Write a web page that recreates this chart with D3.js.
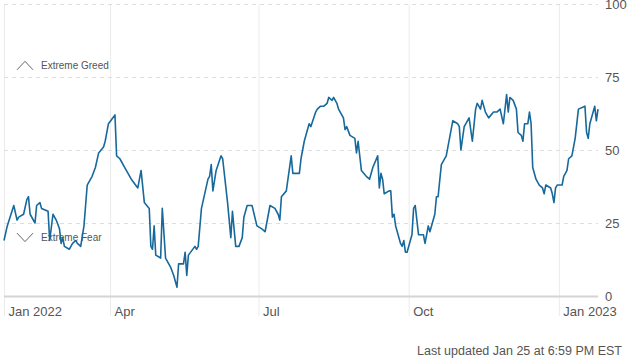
<!DOCTYPE html>
<html>
<head>
<meta charset="utf-8">
<title>Fear &amp; Greed Index</title>
<style>
  body { margin: 0; background: #fff; }
  svg { display: block; font-family: "Liberation Sans", Arial, sans-serif; }
</style>
</head>
<body>
<svg width="630" height="364" class="fg-chart"></svg>
<script src="https://cdnjs.cloudflare.com/ajax/libs/d3/7.8.5/d3.min.js"></script>
<script>
// index readings
var dates = [
  '2022-01-26','2022-01-28','2022-02-01','2022-02-03','2022-02-04','2022-02-07','2022-02-09','2022-02-10','2022-02-11','2022-02-14',
  '2022-02-15','2022-02-17','2022-02-18','2022-02-22','2022-02-23','2022-02-25','2022-02-27','2022-03-01','2022-03-02','2022-03-03',
  '2022-03-04','2022-03-07','2022-03-09','2022-03-11','2022-03-12','2022-03-14','2022-03-16','2022-03-18','2022-03-21','2022-03-23',
  '2022-03-25','2022-03-28','2022-03-29','2022-03-31','2022-04-04','2022-04-05','2022-04-07','2022-04-10','2022-04-12','2022-04-14',
  '2022-04-18','2022-04-20','2022-04-22','2022-04-25','2022-04-26','2022-04-27','2022-04-28','2022-04-29','2022-05-02','2022-05-03',
  '2022-05-05','2022-05-08','2022-05-10','2022-05-12','2022-05-13','2022-05-16','2022-05-17','2022-05-18','2022-05-19','2022-05-23',
  '2022-05-24','2022-05-25','2022-05-27','2022-05-31','2022-06-01','2022-06-02','2022-06-03','2022-06-05','2022-06-08','2022-06-09',
  '2022-06-12','2022-06-14','2022-06-15','2022-06-17','2022-06-19','2022-06-21','2022-06-22','2022-06-24','2022-06-27','2022-06-30',
  '2022-07-03','2022-07-05','2022-07-08','2022-07-11','2022-07-13','2022-07-14','2022-07-15','2022-07-18','2022-07-19','2022-07-21',
  '2022-07-22','2022-07-26','2022-07-27','2022-07-29','2022-07-31','2022-08-01','2022-08-02','2022-08-05','2022-08-06','2022-08-08',
  '2022-08-10','2022-08-12','2022-08-13','2022-08-15','2022-08-16','2022-08-18','2022-08-19','2022-08-22','2022-08-23','2022-08-24',
  '2022-08-26','2022-08-29','2022-08-30','2022-08-31','2022-09-02','2022-09-05','2022-09-07','2022-09-09','2022-09-12','2022-09-13',
  '2022-09-14','2022-09-15','2022-09-16','2022-09-19','2022-09-20','2022-09-21','2022-09-22','2022-09-23','2022-09-26','2022-09-27',
  '2022-09-28','2022-09-29','2022-09-30','2022-10-03','2022-10-04','2022-10-05','2022-10-07','2022-10-10','2022-10-11','2022-10-13',
  '2022-10-14','2022-10-17','2022-10-18','2022-10-19','2022-10-21','2022-10-24','2022-10-26','2022-10-28','2022-10-31','2022-11-01',
  '2022-11-02','2022-11-04','2022-11-07','2022-11-09','2022-11-11','2022-11-12','2022-11-13','2022-11-14','2022-11-15','2022-11-17',
  '2022-11-19','2022-11-22','2022-11-24','2022-11-26','2022-11-28','2022-11-30','2022-12-01','2022-12-02','2022-12-04','2022-12-06',
  '2022-12-07','2022-12-09','2022-12-10','2022-12-11','2022-12-13','2022-12-14','2022-12-15','2022-12-16','2022-12-18','2022-12-20',
  '2022-12-22','2022-12-23','2022-12-24','2022-12-27','2022-12-28','2022-12-29','2022-12-30','2022-12-31','2023-01-03','2023-01-04',
  '2023-01-06','2023-01-07','2023-01-09','2023-01-11','2023-01-13','2023-01-17','2023-01-18','2023-01-19','2023-01-20','2023-01-23',
  '2023-01-24','2023-01-25'
]
var values = [
  19, 24, 31, 26, 27, 28, 33, 34, 28, 25,
  31, 32, 30, 29, 19, 28, 26, 23, 18, 20,
  17, 16, 18, 19, 18, 17, 24, 38, 41, 44,
  49, 51, 53, 59, 62, 48, 47, 44, 42, 40,
  37, 43, 32, 30, 17, 16, 24, 14, 13, 30,
  13, 10, 7, 3, 11, 11, 15, 7, 14, 17,
  16, 17, 30, 40, 41, 45, 36, 43, 48, 47,
  32, 20, 29, 17, 17, 20, 27, 31, 31, 24,
  23, 22, 31, 30, 28, 26, 34, 36, 40, 48,
  42, 42, 47, 53, 57, 59, 58, 63, 64, 65,
  65, 66, 68, 67, 68, 66, 64, 61, 57, 58,
  55, 54, 49, 53, 43, 41, 40, 44, 48, 37,
  42, 40, 35, 36, 36, 27, 28, 24, 18, 17,
  19, 15, 15, 21, 30, 31, 21, 21, 18, 24,
  22, 28, 34, 34, 45, 48, 54, 60, 59, 58,
  50, 58, 61, 53, 64, 66, 65, 64, 67, 63,
  61, 63, 63, 64, 59, 69, 63, 68, 67, 64,
  56, 55, 53, 59, 59, 63, 59, 44, 40, 38,
  37, 35, 38, 37, 35, 32, 37, 38, 38, 41,
  43, 47, 48, 54, 64, 65, 56, 54, 59, 65,
  60, 64
]
var yTicks = [0, 25, 50, 75, 100]
var xTickDates = ['2022-01-26', '2022-04-01', '2022-07-01', '2022-10-01', '2023-01-01']
var xTickLabels = ['Jan 2022', 'Apr', 'Jul', 'Oct', 'Jan 2023']

var parse = d3.timeParse('%Y-%m-%d')
var data = dates.map(function(d, i) { return {date: parse(d), value: values[i]} })

var svg = d3.select('.fg-chart')
var plotLeft = 4, plotRight = 598, plotTop = 4, plotBottom = 296

var x = d3.scaleTime()
  .domain([parse('2022-01-26'), parse('2023-01-25')])
  .range([plotLeft, plotRight])
var y = d3.scaleLinear().domain([0, 100]).range([plotBottom, plotTop])

// vertical gridlines + month labels
var xAxis = d3.axisBottom(x)
  .tickValues(xTickDates.map(parse))
  .tickSize(0)
  .tickFormat(function(d, i) { return xTickLabels[i] })
var gx = svg.append('g')
  .attr('transform', 'translate(0,' + plotBottom + ')')
  .call(xAxis)
gx.select('.domain').remove()
gx.selectAll('.tick line')
  .attr('y1', 20)
  .attr('y2', -(plotBottom - plotTop))
  .attr('stroke', '#ebebeb')
  .attr('stroke-width', 1)
gx.selectAll('.tick text')
  .attr('x', 4)
  .attr('y', 20)
  .attr('dy', 0)
  .attr('text-anchor', 'start')
  .attr('fill', '#555')
  .attr('font-size', 13)

// horizontal gridlines + right labels
var yAxis = d3.axisRight(y).tickValues(yTicks).tickSize(plotRight - plotLeft)
var gy = svg.append('g')
  .attr('transform', 'translate(' + plotLeft + ',0)')
  .call(yAxis)
gy.select('.domain').remove()
gy.selectAll('.tick line')
  .attr('stroke-dasharray', function(d) { return d === 0 ? null : '4,4' })
  .attr('stroke-width', function(d) { return d === 0 ? 2 : 1 })
  .attr('stroke', function(d) { return d === 0 ? '#d4d4d4' : '#dedede' })
gy.selectAll('.tick text')
  .attr('x', plotRight - plotLeft + 7)
  .attr('fill', '#555')
  .attr('font-size', 13)

// annotations
var notes = [
  {label: 'Extreme Greed', value: 79, up: true},
  {label: 'Extreme Fear', value: 20, up: false}
]
notes.forEach(function(n) {
  var cy = y(n.value)
  var pts = n.up
    ? [[17, cy + 4.5], [25, cy - 4], [33, cy + 4.5]]
    : [[17, cy - 4.5], [25, cy + 4], [33, cy - 4.5]]
  svg.append('path')
    .attr('d', d3.line()(pts))
    .attr('fill', 'none')
    .attr('stroke', '#666')
    .attr('stroke-width', 1)
  svg.append('text')
    .attr('x', 41)
    .attr('y', cy + 3.5)
    .attr('font-size', 10)
    .attr('fill', '#555')
    .text(n.label)
})

// index line
svg.append('path')
  .datum(data)
  .attr('fill', 'none')
  .attr('stroke', '#17699c')
  .attr('stroke-width', 1.6)
  .attr('stroke-linejoin', 'round')
  .attr('d', d3.line()
    .x(function(d) { return x(d.date) })
    .y(function(d) { return y(d.value) }))

svg.append('text')
  .attr('x', 622)
  .attr('y', 355)
  .attr('text-anchor', 'end')
  .attr('font-size', 12.5)
  .attr('fill', '#555')
  .text('Last updated Jan 25 at 6:59 PM EST')
</script>
</body>
</html>
